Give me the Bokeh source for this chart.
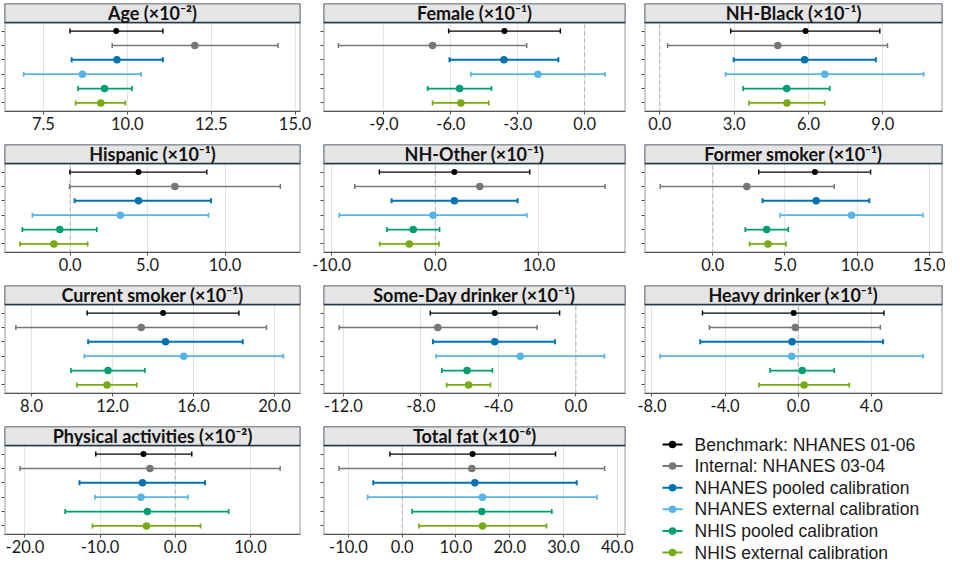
from bokeh.plotting import figure
from bokeh.models import (ColumnDataSource, Whisker, TeeHead, FixedTicker,
                          NumeralTickFormatter, Span, Range1d)
from bokeh.layouts import column, row
from bokeh.embed import file_html
from bokeh.resources import INLINE
from bokeh.core.properties import value

SERIES = ["Benchmark: NHANES 01-06", "Internal: NHANES 03-04",
          "NHANES pooled calibration", "NHANES external calibration",
          "NHIS pooled calibration", "NHIS external calibration"]
COLORS = ["#000000", "#777777", "#0072B2", "#56B4E9", "#009E73", "#77AB12"]
ROWPOS = [1, 2, 3, 4, 5, 6]

TITLES = ["Age (×10⁻²)", "Female (×10⁻¹)", "NH-Black (×10⁻¹)",
          "Hispanic (×10⁻¹)", "NH-Other (×10⁻¹)", "Former smoker (×10⁻¹)",
          "Current smoker (×10⁻¹)", "Some-Day drinker (×10⁻¹)", "Heavy drinker (×10⁻¹)",
          "Physical activities (×10⁻²)", "Total fat (×10⁻⁶)"]

AGE_EST = [9.67, 12.01, 9.69, 8.66, 9.32, 9.21]
AGE_LO = [8.29, 9.55, 8.34, 6.91, 8.53, 8.46]
AGE_HI = [11.06, 14.49, 11.06, 10.41, 10.14, 9.94]
AGE_TICKS = [7.5, 10.0, 12.5, 15.0]

FEMALE_EST = [-3.60, -6.82, -3.62, -2.10, -5.61, -5.55]
FEMALE_LO = [-6.10, -11.04, -6.06, -5.10, -7.04, -6.82]
FEMALE_HI = [-1.09, -2.60, -1.18, 0.91, -4.18, -4.30]
FEMALE_TICKS = [-9.0, -6.0, -3.0, 0.0]

BLACK_EST = [5.88, 4.76, 5.84, 6.66, 5.12, 5.13]
BLACK_LO = [2.86, 0.31, 2.98, 2.65, 3.36, 3.60]
BLACK_HI = [8.88, 9.19, 8.72, 10.65, 6.86, 6.65]
BLACK_TICKS = [0.0, 3.0, 6.0, 9.0]

HISP_EST = [4.41, 6.76, 4.41, 3.24, -0.67, -1.05]
HISP_LO = [-0.02, -0.04, 0.29, -2.44, -3.09, -3.24]
HISP_HI = [8.82, 13.57, 9.09, 8.93, 1.72, 1.13]
HISP_TICKS = [0.0, 5.0, 10.0]

OTHER_EST = [1.84, 4.29, 1.84, -0.22, -2.13, -2.51]
OTHER_LO = [-5.40, -7.78, -4.22, -9.27, -4.67, -5.37]
OTHER_HI = [9.11, 16.38, 7.94, 8.83, 0.41, 0.35]
OTHER_TICKS = [-10.0, 0.0, 10.0]

FORMER_EST = [7.07, 2.36, 7.16, 9.61, 3.73, 3.82]
FORMER_LO = [3.18, -3.64, 3.45, 4.66, 2.25, 2.55]
FORMER_HI = [10.93, 8.41, 10.84, 14.55, 5.23, 5.07]
FORMER_TICKS = [0.0, 5.0, 10.0, 15.0]

CURRENT_EST = [14.50, 13.42, 14.62, 15.52, 11.78, 11.73]
CURRENT_LO = [10.75, 7.23, 10.80, 10.61, 9.95, 10.24]
CURRENT_HI = [18.24, 19.60, 18.43, 20.43, 13.60, 13.20]
CURRENT_TICKS = [8.0, 12.0, 16.0, 20.0]

SOMEDAY_EST = [-4.19, -7.13, -4.19, -2.87, -5.62, -5.54]
SOMEDAY_LO = [-7.52, -12.22, -7.38, -7.21, -6.92, -6.67]
SOMEDAY_HI = [-0.84, -2.00, -1.08, 1.47, -4.31, -4.41]
SOMEDAY_TICKS = [-12.0, -8.0, -4.0, 0.0]

HEAVY_EST = [-0.25, -0.16, -0.34, -0.36, 0.22, 0.32]
HEAVY_LO = [-5.24, -4.86, -5.36, -7.55, -1.54, -2.15]
HEAVY_HI = [4.69, 4.49, 4.64, 6.83, 1.97, 2.79]
HEAVY_TICKS = [-8.0, -4.0, 0.0, 4.0]

PHYS_EST = [-4.22, -3.36, -4.35, -4.56, -3.70, -3.83]
PHYS_LO = [-10.57, -20.65, -12.74, -10.68, -14.64, -11.02]
PHYS_HI = [2.20, 13.95, 3.96, 1.68, 7.10, 3.36]
PHYS_TICKS = [-20.0, -10.0, 0.0, 10.0]

FAT_EST = [13.09, 12.96, 13.52, 14.94, 14.81, 14.94]
FAT_LO = [-2.28, -11.73, -5.37, -6.42, 1.85, 3.15]
FAT_HI = [28.52, 37.65, 32.47, 36.23, 27.84, 26.85]
FAT_TICKS = [-10.0, 0.0, 10.0, 20.0, 30.0, 40.0]

LINE_W = [1.4, 1.5, 2.0, 1.7, 1.7, 1.7]
DOT_SIZE = [6.0, 7.5, 7.5, 7.5, 7.5, 7.5]

HEAD_H = 19
PLOT_H = 89
PAD = 0.6
UNIT = PLOT_H / (len(ROWPOS) - 1 + 2 * PAD)
HEAD_U = HEAD_H / UNIT
Y_BOT = ROWPOS[-1] + PAD
Y_SPLIT = ROWPOS[0] - PAD
Y_TOP = Y_SPLIT - HEAD_U

COLS = [dict(fw=296, bl=4, br=11), dict(fw=302, bl=12, br=9), dict(fw=298, bl=10, br=3)]
TOP_B, BOT_B = 3, 30


def make_panel(title, est, lo, hi, ticks, xr, zero, colcfg):
    p = figure(frame_width=colcfg["fw"], frame_height=HEAD_H + PLOT_H,
               x_range=Range1d(xr[0], xr[1]), y_range=Range1d(Y_BOT, Y_TOP),
               output_backend="svg", toolbar_location=None, title=None,
               min_border_left=colcfg["bl"], min_border_right=colcfg["br"],
               min_border_top=TOP_B, min_border_bottom=BOT_B)
    p.outline_line_color = None
    p.background_fill_color = "white"
    p.border_fill_color = "white"

    p.xaxis.ticker = FixedTicker(ticks=ticks)
    p.xaxis.formatter = NumeralTickFormatter(format="0.0")
    p.xaxis.major_label_text_font = "Lato"
    p.xaxis.major_label_text_font_size = "16.5px"
    p.xaxis.major_label_text_color = "#1a1a1a"
    p.xaxis.major_label_standoff = 2
    p.xaxis.major_tick_out = 3
    p.xaxis.major_tick_in = 0
    p.xaxis.minor_tick_line_color = None
    p.xaxis.axis_line_color = "#555555"
    p.xaxis.major_tick_line_color = "#555555"

    p.yaxis.ticker = FixedTicker(ticks=ROWPOS)
    p.yaxis.major_label_overrides = {k: "" for k in ROWPOS}
    p.yaxis.major_label_standoff = 0
    p.yaxis.major_tick_out = 3
    p.yaxis.major_tick_in = 0
    p.yaxis.minor_tick_line_color = None
    p.yaxis.axis_line_color = None
    p.yaxis.major_tick_line_color = "#444444"

    p.xgrid.ticker = FixedTicker(ticks=ticks)
    p.xgrid.grid_line_color = "#e3e3e3"
    p.ygrid.visible = False

    if zero:
        p.add_layout(Span(location=0, dimension="height", line_color="#b3b3b3",
                          line_dash="4 3", line_width=1, level="underlay"))

    for i in range(len(ROWPOS)):
        src = ColumnDataSource(dict(y=[ROWPOS[i]], lo=[lo[i]], hi=[hi[i]]))
        c = COLORS[i]
        w = Whisker(source=src, base="y", lower="lo", upper="hi", dimension="width",
                    line_color=c, line_width=LINE_W[i],
                    upper_head=TeeHead(size=5, line_color=c, line_width=LINE_W[i]),
                    lower_head=TeeHead(size=5, line_color=c, line_width=LINE_W[i]))
        p.add_layout(w)

    pts = ColumnDataSource(dict(x=est, y=ROWPOS, c=COLORS, s=DOT_SIZE))
    p.scatter(x="x", y="y", size="s", fill_color="c", line_color=None, source=pts)

    # panel border and strip header
    p.quad(left=[xr[0]], right=[xr[1]], top=[Y_SPLIT], bottom=[Y_BOT],
           fill_color=None, line_color="#9a9a9a", line_width=2)
    p.quad(left=[xr[0]], right=[xr[1]], top=[Y_TOP], bottom=[Y_SPLIT],
           fill_color="#e5e5e5", line_color="#26394a", line_width=1.6)
    p.text(x=[(xr[0] + xr[1]) / 2], y=[(Y_TOP + Y_SPLIT) / 2 + 0.03], text=[title],
           text_align="center", text_baseline="middle", text_font=value("Lato"),
           text_font_style="bold", text_font_size="18px", text_color="#111111")
    return p


panels = [
    make_panel(TITLES[0], AGE_EST, AGE_LO, AGE_HI, AGE_TICKS, (6.34, 15.16), False, COLS[0]),
    make_panel(TITLES[1], FEMALE_EST, FEMALE_LO, FEMALE_HI, FEMALE_TICKS, (-11.71, 1.83), True, COLS[1]),
    make_panel(TITLES[2], BLACK_EST, BLACK_LO, BLACK_HI, BLACK_TICKS, (-0.62, 11.41), True, COLS[2]),
    make_panel(TITLES[3], HISP_EST, HISP_LO, HISP_HI, HISP_TICKS, (-4.24, 14.87), True, COLS[0]),
    make_panel(TITLES[4], OTHER_EST, OTHER_LO, OTHER_HI, OTHER_TICKS, (-10.79, 18.35), True, COLS[1]),
    make_panel(TITLES[5], FORMER_EST, FORMER_LO, FORMER_HI, FORMER_TICKS, (-4.73, 15.91), True, COLS[2]),
    make_panel(TITLES[6], CURRENT_EST, CURRENT_LO, CURRENT_HI, CURRENT_TICKS, (6.67, 21.28), False, COLS[0]),
    make_panel(TITLES[7], SOMEDAY_EST, SOMEDAY_LO, SOMEDAY_HI, SOMEDAY_TICKS, (-13.03, 2.56), True, COLS[1]),
    make_panel(TITLES[8], HEAVY_EST, HEAVY_LO, HEAVY_HI, HEAVY_TICKS, (-8.41, 7.89), True, COLS[2]),
    make_panel(TITLES[9], PHYS_EST, PHYS_LO, PHYS_HI, PHYS_TICKS, (-22.71, 16.66), True, COLS[0]),
    make_panel(TITLES[10], FAT_EST, FAT_LO, FAT_HI, FAT_TICKS, (-14.63, 41.54), True, COLS[1]),
]

# legend cell: a small figure whose ranges are in pixels (top-down)
lw_total = COLS[2]["fw"] + COLS[2]["bl"] + COLS[2]["br"]
lh_total = HEAD_H + PLOT_H + TOP_B + BOT_B
lg = figure(frame_width=lw_total, frame_height=lh_total, x_axis_type=None, y_axis_type=None,
            toolbar_location=None, output_backend="svg", min_border=0, title=None,
            x_range=Range1d(0, lw_total), y_range=Range1d(lh_total, 0))
lg.outline_line_color = None
lg.background_fill_color = "white"
lg.border_fill_color = "white"
LEG_X0, LEG_GW, LEG_STAND = 28, 20, 12
LEG_Y0, LEG_DY = 18, 21.6
leg_y = [LEG_Y0 + LEG_DY * i for i in range(len(SERIES))]
leg_src = ColumnDataSource(dict(y=leg_y, c=COLORS, label=SERIES,
                                x0=[LEG_X0] * len(SERIES), x1=[LEG_X0 + LEG_GW] * len(SERIES),
                                xm=[LEG_X0 + LEG_GW / 2] * len(SERIES),
                                xt=[LEG_X0 + LEG_GW + LEG_STAND] * len(SERIES)))
lg.segment(x0="x0", x1="x1", y0="y", y1="y", line_color="c", line_width=2, source=leg_src)
lg.scatter(x="xm", y="y", size=7.5, fill_color="c", line_color=None, source=leg_src)
lg.text(x="xt", y="y", text="label", text_baseline="middle", text_align="left",
        text_font=value("Liberation Sans"), text_font_size="17.5px",
        text_color="#1a1a1a", source=leg_src)

layout = column(
    row(panels[0], panels[1], panels[2]),
    row(panels[3], panels[4], panels[5]),
    row(panels[6], panels[7], panels[8]),
    row(panels[9], panels[10], lg),
)

open("out.html", "w").write(file_html(layout, INLINE))
